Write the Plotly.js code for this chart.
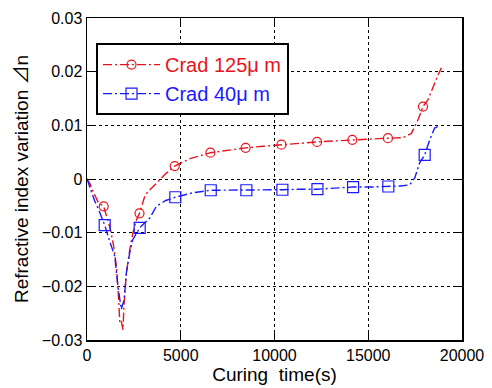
<!DOCTYPE html>
<html>
<head>
<meta charset="utf-8">
<script src="https://cdn.plot.ly/plotly-3.0.1.min.js"></script>
<style>html,body{margin:0;padding:0;background:#fff;}#chart{width:492px;height:388px;}</style>
</head>
<body>
<div id="chart"></div>
<script>
// Crad 125 µm: continuous curve
var redTime = [0, 150, 360, 620, 890, 1100, 1250, 1420, 1570, 1690, 1750, 1830, 1920, 1970, 2100, 2280, 2450, 2650, 2800, 3110, 3700, 4230, 4680, 5500, 6580, 7500, 8460, 9400, 10370, 11300, 12270, 13200, 14150, 15100, 16050, 16850, 17300, 17650, 17920, 18190, 18450, 18700, 18900];
var redDn = [0, -0.0008, -0.0026, -0.0045, -0.0051, -0.0075, -0.0094, -0.0125, -0.0163, -0.0225, -0.0268, -0.0265, -0.0281, -0.0237, -0.0175, -0.0132, -0.0100, -0.0075, -0.0064, -0.0029, -0.0007, 0.0011, 0.0024, 0.0038, 0.0049, 0.0054, 0.0058, 0.0061, 0.0064, 0.0067, 0.0069, 0.0071, 0.0073, 0.0075, 0.0076, 0.0077, 0.0085, 0.0110, 0.0135, 0.0148, 0.0172, 0.0192, 0.0207];
// Crad 125 µm: marker points
var redMarkTime = [890, 2800, 4680, 6580, 8460, 10370, 12270, 14150, 16050, 17920];
var redMarkDn = [-0.0051, -0.0064, 0.0024, 0.0049, 0.0058, 0.0064, 0.0069, 0.0073, 0.0076, 0.0135];

// Crad 40 µm: continuous curve
var blueTime = [0, 90, 180, 400, 620, 945, 1210, 1480, 1650, 1740, 1830, 1980, 2100, 2280, 2440, 2810, 3340, 3700, 4200, 4710, 5600, 6600, 7500, 8500, 9500, 10420, 11300, 12290, 13200, 14190, 15100, 16070, 16700, 17210, 17480, 17740, 18010, 18280, 18540, 18800];
var blueDn = [0, -0.0010, -0.0020, -0.0040, -0.0057, -0.0086, -0.0116, -0.0144, -0.0200, -0.0225, -0.0243, -0.0225, -0.0175, -0.0137, -0.0113, -0.0091, -0.0073, -0.0051, -0.0040, -0.0034, -0.0026, -0.0021, -0.0021, -0.0021, -0.0020, -0.0020, -0.0019, -0.0019, -0.0017, -0.0015, -0.0015, -0.0014, -0.0013, -0.0011, 0.0002, 0.0030, 0.0045, 0.0073, 0.0095, 0.0099];
// Crad 40 µm: marker points
var blueMarkTime = [945, 2810, 4710, 6600, 8500, 10420, 12290, 14190, 16070, 18010];
var blueMarkDn = [-0.0086, -0.0091, -0.0034, -0.0021, -0.0021, -0.0020, -0.0019, -0.0015, -0.0014, 0.0045];

var seriesNames = ['Crad 125\u03bc m', 'Crad 40\u03bc m'];
var xTicks = [0, 5000, 10000, 15000, 20000];
var yTicks = [-0.03, -0.02, -0.01, 0, 0.01, 0.02, 0.03];
var yTickText = ['\u22120.03', '\u22120.02', '\u22120.01', '0', '0.01', '0.02', '0.03'];

var RED = '#e8141c', BLUE = '#1a1aff';
var DASH = '9px,3px,2px,3px';
var FONT = 'Liberation Sans, Arial, Noto Sans CJK JP, sans-serif';

var traces = [
  {x: redTime, y: redDn, mode: 'lines', line: {color: RED, width: 1.4, dash: DASH}, showlegend: false, hoverinfo: 'skip'},
  {x: redMarkTime, y: redMarkDn, mode: 'markers', marker: {symbol: 'circle-open', size: 9, color: RED, line: {width: 1.2}}, showlegend: false},
  {x: blueTime, y: blueDn, mode: 'lines', line: {color: BLUE, width: 1.4, dash: DASH}, showlegend: false, hoverinfo: 'skip'},
  {x: blueMarkTime, y: blueMarkDn, mode: 'markers', marker: {symbol: 'square-open', size: 11, color: BLUE, line: {width: 1.2}}, showlegend: false},
  {x: [null], y: [null], name: seriesNames[0], mode: 'lines+markers', line: {color: RED, width: 1.4, dash: DASH}, marker: {symbol: 'circle-open', size: 9, color: RED, line: {width: 1.2}}},
  {x: [null], y: [null], name: seriesNames[1], mode: 'lines+markers', line: {color: BLUE, width: 1.4, dash: DASH}, marker: {symbol: 'square-open', size: 11, color: BLUE, line: {width: 1.2}}}
];

var axisCommon = {
  showline: true, linecolor: '#000', linewidth: 1.5, mirror: 'ticks',
  ticks: 'inside', ticklen: 7, tickcolor: '#000', tickwidth: 1,
  showgrid: true, gridcolor: '#000', gridwidth: 1, griddash: 'dot',
  zeroline: false, tickfont: {family: FONT, size: 16, color: '#000'}
};

var layout = {
  width: 492, height: 388,
  margin: {l: 87, r: 30, t: 18, b: 48},
  paper_bgcolor: '#fff', plot_bgcolor: '#fff',
  font: {family: FONT, color: '#000'},
  xaxis: Object.assign({}, axisCommon, {
    range: [0, 20000], tickvals: xTicks, ticktext: xTicks.map(String),
    title: {text: 'Curing  time(s)', font: {family: FONT, size: 19, color: '#000'}, standoff: 3}
  }),
  yaxis: Object.assign({}, axisCommon, {
    range: [-0.03, 0.03], tickvals: yTicks, ticktext: yTickText,
    title: {text: 'Refractive index variation \u22bfn', font: {family: FONT, size: 19, color: '#000'}, standoff: 8}
  }),
  legend: {
    x: 0.024, y: 0.922, xanchor: 'left', yanchor: 'top',
    bgcolor: '#fff', bordercolor: '#000', borderwidth: 2,
    font: {family: FONT, size: 20},
    itemwidth: 57, tracegroupgap: 0
  },
  showlegend: true
};

Plotly.newPlot('chart', traces, layout, {staticPlot: true}).then(function(){
  // colour legend texts like their series
  var cols = [RED, BLUE];
  document.querySelectorAll('.legendtext').forEach(function(t, i){ t.style.fill = cols[i]; });
});
</script>
</body>
</html>
